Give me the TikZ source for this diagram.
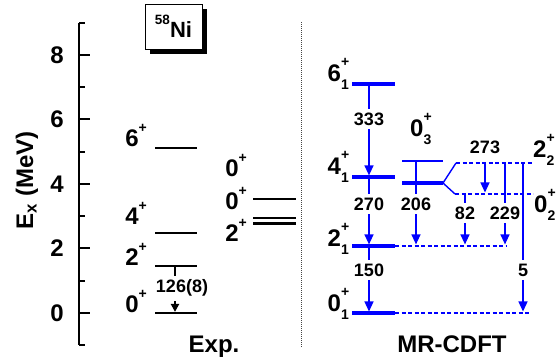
\documentclass[tikz,border=0pt]{standalone}
\usepackage{fontspec}
\setmainfont{Liberation Sans}
\usepackage{xcolor}
\usetikzlibrary{arrows.meta,shadows}
\definecolor{lvblue}{HTML}{0000FF}
\definecolor{sepgray}{HTML}{444444}
\newcommand{\bigf}{\fontsize{24}{26}\selectfont\bfseries}
\newcommand{\midf}{\fontsize{18}{20}\selectfont\bfseries}
\newcommand{\smlf}{\fontsize{14}{14}\selectfont\bfseries}
\newcommand{\jp}[3]{#1\raisebox{-8pt}{\smlf\rlap{\raisebox{23pt}{#2}}#3}}
\newcommand{\jpe}[2]{#1\raisebox{14.5pt}{\smlf#2}}
\tikzset{
  axln/.style={line width=2pt},
  explv/.style={line width=2.5pt},
  thlv/.style={draw=lvblue,line width=3.5pt},
  dshlv/.style={draw=lvblue,line width=1.4pt,dash pattern=on 4pt off 2.5pt},
  brlv/.style={draw=lvblue,line width=1.4pt},
  trs/.style={draw=lvblue,line width=1.3pt,-{Triangle[length=10pt,width=9pt]},shorten >=1.5pt},
  trexp/.style={line width=1.2pt,-{Triangle[length=8pt,width=8.5pt]},shorten >=1.2pt},
  trl/.style={font=\midf,fill=white,inner xsep=1pt,inner ysep=4pt},
  jlab/.style={font=\bigf,inner sep=0pt,anchor=base east},
  jlabw/.style={jlab,anchor=base west},
  ticklab/.style={font=\bigf,inner sep=0pt,anchor=east},
}
\begin{document}
\begin{tikzpicture}[x=1pt,y=32.25pt]
\useasboundingbox (0,-1.426) rectangle (557,9.705);
\draw[axln] (79,9) -- (79,-1);
\foreach \e in {0,2,...,8}{
  \draw[axln] (79,\e) -- (90,\e);
  \node[ticklab] (tk\e) at (64,\e) {\e};
}
\foreach \e in {-1,1,...,9}
  \draw[axln] (79,\e) -- (85,\e);
\node[font=\bigf,rotate=90,anchor=base,inner sep=0pt] (ylab) at (33,4.12) {E\textsubscript{x} (MeV)};
\node[draw,fill=white,line width=0.8pt,minimum width=57pt,minimum height=45pt,inner sep=0pt,
  drop shadow={shadow xshift=5pt,shadow yshift=-5pt,fill=black,opacity=1}] (nuc) at (173.5,8.88)
  {\raisebox{13pt}{\fontsize{13.5}{14}\selectfont\bfseries 58}\fontsize{22}{24}\selectfont\bfseries Ni};
\draw[sepgray,line width=0.7pt,dash pattern=on 0.8pt off 1.2pt] (301,9.02) -- (301,-1.085);
\foreach \e in {5.12,2.48,1.45,0}
  \draw[explv] (155,\e) -- (197,\e);
\foreach \b/\n in {5.147/6,2.729/4,1.457/2,0/0}
  \node[jlab] (le\n) at (147,\b) {\jpe{\n}{+}};
\foreach \e in {3.53,2.94,2.78}
  \draw[explv] (253,\e) -- (296,\e);
\node[jlab] (lx3) at (247,4.217) {\jpe{0}{+}};
\node[jlab] (lx2) at (247,3.194) {\jpe{0}{+}};
\node[jlab] (lx1) at (247,2.202) {\jpe{2}{+}};
\coordinate (e2t) at (175,1.45);
\coordinate (e0t) at (175,0);
\draw[trexp] (e2t) -- node[trl,pos=.47,xshift=7pt] (t126) {126(8)} (e0t);
\node[font=\bigf,anchor=base] (lexp) at (214,-1.24) {Exp.};
\node[font=\bigf,anchor=base] (lmr) at (452,-1.24) {MR-CDFT};
\foreach \e in {7.10,4.22,2.08,0}
  \draw[thlv] (352,\e) -- (395,\e);
\draw[dshlv] (395,2.08) -- (507,2.08);
\draw[dshlv] (395,0) -- (530,0);
\draw[thlv,line width=2.5pt] (402,4.71) -- (443,4.71);
\draw[thlv,line width=4pt] (402,4.03) -- (443,4.03) coordinate (fork);
\draw[brlv] (fork) -- (456,4.65) coordinate (s22);
\draw[brlv] (fork) -- (455,3.69) coordinate (s02);
\draw[dshlv] (s22) -- (533,4.65);
\draw[dshlv] (s02) -- (533,3.69);
\node[jlab] (l61) at (349,7.163) {\jp{6}{+}{1}};
\node[jlab] (l41) at (349,4.279) {\jp{4}{+}{1}};
\node[jlab] (l21) at (349,2.047) {\jp{2}{+}{1}};
\node[jlab] (l01) at (349,0.031) {\jp{0}{+}{1}};
\node[jlabw] (l03) at (410,5.457) {\jp{0}{+}{3}};
\node[jlabw] (l22) at (533,4.806) {\jp{2}{+}{2}};
\node[jlabw] (l02) at (534,3.101) {\jp{0}{+}{2}};
\coordinate (a61) at (369,7.10);
\coordinate (a41) at (369,4.22);
\coordinate (a21) at (369,2.08);
\coordinate (a01) at (369,0);
\coordinate (b03) at (416,4.71);
\coordinate (b21) at (416,2.08);
\coordinate (c22) at (485,4.65);
\coordinate (c02) at (485,3.69);
\coordinate (d02) at (465,3.69);
\coordinate (d21) at (465,2.08);
\coordinate (f22) at (505,4.65);
\coordinate (f21) at (505,2.08);
\coordinate (g22) at (523,4.65);
\coordinate (g01) at (523,0);
\draw[trs] (a61) -- node[trl,pos=.376] (t333) {333} (a41);
\draw[trs] (a41) -- node[trl,pos=.393] (t270) {270} (a21);
\draw[trs] (a21) -- node[trl,pos=.359] (t150) {150} (a01);
\draw[trs] (b03) -- node[trl,pos=.506] (t206) {206} (b21);
\draw[trs] (c22) -- (c02);
\node[font=\midf] (t273) at (485,5.147) {273};
\draw[trs] (d02) -- node[trl,pos=.366] (t82) {82} (d21);
\draw[trs] (f22) -- node[trl,pos=.603] (t229) {229} (f21);
\draw[trs] (g22) -- node[trl,pos=.713] (t5) {5} (g01);
\end{tikzpicture}
\end{document}
